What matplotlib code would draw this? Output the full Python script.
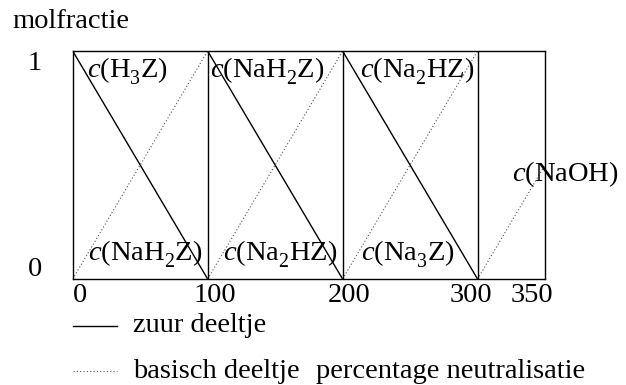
import matplotlib
matplotlib.use("Agg")
import matplotlib.pyplot as plt
import matplotlib.transforms as mtransforms
from matplotlib import _mathtext

# deeper subscripts, closer to the original typesetting
_mathtext.FontConstantsBase.sub1 = 0.55
_mathtext.FontConstantsBase.subdrop = 0.6

plt.rcParams['font.family'] = ['Liberation Serif', 'DejaVu Serif']
plt.rcParams['mathtext.fontset'] = 'custom'
plt.rcParams['mathtext.rm'] = 'Liberation Serif'
plt.rcParams['mathtext.it'] = 'Liberation Serif:italic'
plt.rcParams['font.size'] = 20.5

# neutralisation percentage vs mole fraction
acid_x = [[0, 100], [100, 200], [200, 300]]
acid_y = [[1, 0], [1, 0], [1, 0]]
base_x = [[0, 100], [100, 200], [200, 300], [300, 350]]
base_y = [[0, 1], [0, 1], [0, 1], [0, 0.5]]
stages = [100, 200, 300]

xticks = [0, 100, 200, 300, 350]
xtick_labels = ['0', '100', '200', '300', '350']
yticks = [1, 0]

top_labels = [r'$c$(H$_3$Z)', r'$c$(NaH$_2$Z)', r'$c$(Na$_2$HZ)']
bottom_labels = [r'$c$(NaH$_2$Z)', r'$c$(Na$_2$HZ)', r'$c$(Na$_3$Z)']
naoh_label = r'$c$(NaOH)'

fig = plt.figure(figsize=(6.26, 3.85), dpi=100)
ax = fig.add_axes([72.7 / 626, 1 - 279 / 385, (545 - 72.7) / 626, 228 / 385])
ax.set_xlim(0, 350)
ax.set_ylim(0, 1)

for xs, ys in zip(acid_x, acid_y):
    ax.plot(xs, ys, color='black', lw=1.0)
for xs, ys in zip(base_x, base_y):
    ax.plot(xs, ys, color='#555555', lw=0.8, linestyle=(0, (1, 2)))
for s in stages:
    ax.axvline(s, color='black', lw=1.0)

for sp in ax.spines.values():
    sp.set_linewidth(1.0)
ax.set_xticks([])
ax.set_yticks([])

# tick labels placed by hand like the original drawing
xnudge = [7, 7, 7, -7, -13]
for v, lab, dx in zip(xticks, xtick_labels, xnudge):
    tr = mtransforms.offset_copy(ax.transData, fig=fig, x=dx, y=-4, units='dots')
    ax.text(v, 0, lab, transform=tr, ha='center', va='top')
ynudge = [-13, 10]
for v, dy in zip(yticks, ynudge):
    tr = mtransforms.offset_copy(ax.transData, fig=fig, x=-38, y=dy, units='dots')
    ax.text(0, v, str(v), transform=tr, ha='center', va='center')

top_pos = [10.8, 101.7, 212.9]
bottom_pos = [11.6, 111.4, 213.6]
for lab, x in zip(top_labels, top_pos):
    ax.text(x, 0.882, lab, ha='left', va='baseline')
for lab, x in zip(bottom_labels, bottom_pos):
    ax.text(x, 0.08, lab, ha='left', va='baseline')
ax.text(325.3, 0.431, naoh_label, ha='left', va='baseline', clip_on=False)

fig.text(12.7 / 626, 1 - 28 / 385, 'molfractie', ha='left', va='baseline')

# legend drawn by hand
fig.add_artist(plt.Line2D([72.7 / 626, 117 / 626], [1 - 326 / 385] * 2, color='black', lw=1.0))
fig.add_artist(plt.Line2D([72.7 / 626, 117 / 626], [1 - 371 / 385] * 2, color='#555555', lw=0.8,
                          linestyle=(0, (1, 2))))
fig.text(133 / 626, 1 - 332 / 385, 'zuur deeltje', ha='left', va='baseline')
fig.text(133 / 626, 1 - 378 / 385, 'basisch deeltje', ha='left', va='baseline')
fig.text(316 / 626, 1 - 378 / 385, 'percentage neutralisatie', ha='left', va='baseline')

fig.savefig('out.png', dpi=100)
